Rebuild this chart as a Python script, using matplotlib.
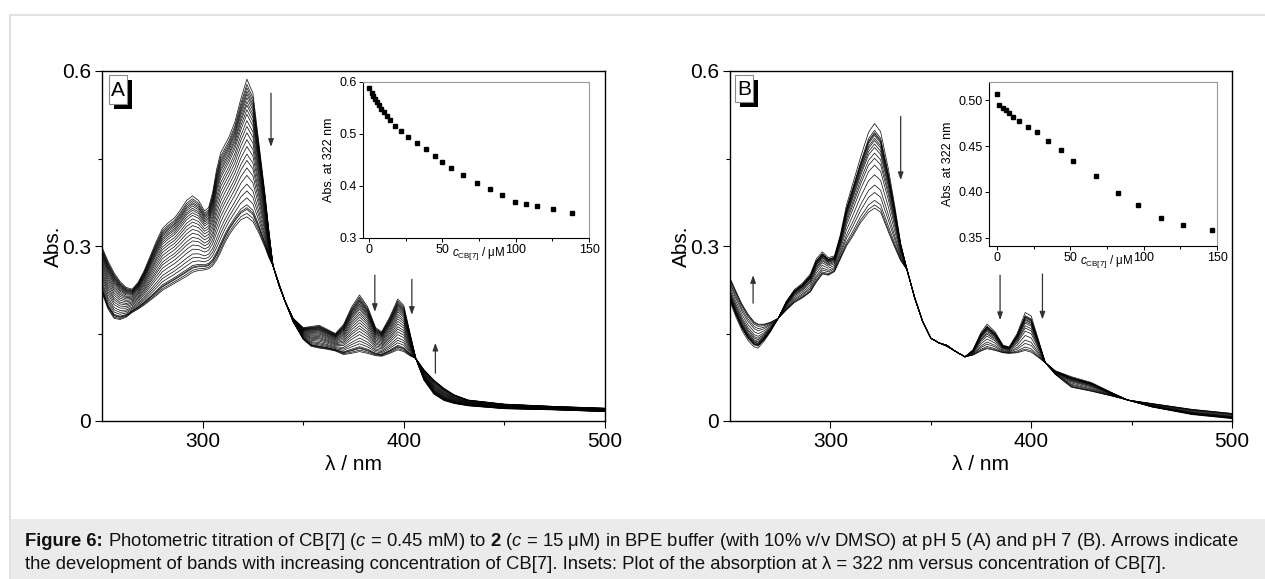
import numpy as np
import matplotlib
matplotlib.use("Agg")
import matplotlib.pyplot as plt
from matplotlib.patches import Rectangle
from matplotlib.lines import Line2D
from matplotlib.ticker import FixedLocator, FuncFormatter

plt.rcParams['font.family'] = ['Liberation Sans', 'DejaVu Sans']
plt.rcParams['mathtext.fontset'] = 'custom'
plt.rcParams['mathtext.rm'] = 'Liberation Sans'
plt.rcParams['mathtext.it'] = 'Liberation Sans:italic'
plt.rcParams['mathtext.bf'] = 'Liberation Sans:bold'

# ---------------- data: panel A (pH 5) ----------------
wl_A = [250, 253, 256, 259, 262, 265, 268, 271, 274, 277, 280, 283, 286, 289, 292,
        295, 298, 301, 303, 305, 307, 309, 311, 313, 316, 319, 322, 325, 328, 331, 333, 335,
        338, 341, 345, 350, 354, 358, 362, 366, 370, 374, 378, 382, 386, 389, 393,
        397, 400, 403, 406, 410, 415, 420, 425, 432, 450, 475, 500]
free_A = [0.298, 0.274, 0.254, 0.239, 0.229, 0.226, 0.238, 0.258, 0.283, 0.308, 0.330,
          0.340, 0.348, 0.362, 0.378, 0.386, 0.378, 0.360, 0.366, 0.392, 0.432, 0.460,
          0.473, 0.486, 0.512, 0.552, 0.586, 0.562, 0.476, 0.390, 0.325, 0.266, 0.232,
          0.205, 0.176, 0.160, 0.162, 0.164, 0.157, 0.150, 0.165, 0.195, 0.216, 0.196,
          0.160, 0.153, 0.178, 0.209, 0.198, 0.152, 0.107, 0.070, 0.046, 0.035, 0.030,
          0.026, 0.021, 0.019, 0.016]
bound_A = [0.220, 0.192, 0.176, 0.174, 0.178, 0.186, 0.192, 0.199, 0.207, 0.215, 0.224,
           0.230, 0.236, 0.242, 0.248, 0.255, 0.258, 0.259, 0.261, 0.266, 0.276, 0.290,
           0.305, 0.318, 0.333, 0.345, 0.350, 0.342, 0.322, 0.298, 0.280, 0.266, 0.235,
           0.205, 0.170, 0.140, 0.128, 0.125, 0.123, 0.120, 0.114, 0.116, 0.119, 0.116,
           0.112, 0.111, 0.116, 0.122, 0.119, 0.112, 0.107, 0.088, 0.070, 0.056, 0.045,
           0.036, 0.029, 0.025, 0.022]
conc_A = [0, 1.8, 2.9, 4.3, 5.6, 7.0, 8.6, 10.1, 12.2, 14.6, 18.0, 22, 27, 33, 39, 45,
          50, 56.3, 64.2, 73.6, 82.4, 91.0, 99.5, 107.2, 114.9, 125.2, 138.5]
abs322_A = [0.588, 0.579, 0.573, 0.567, 0.562, 0.556, 0.549, 0.543, 0.535, 0.527, 0.516,
            0.506, 0.495, 0.483, 0.471, 0.458, 0.447, 0.434, 0.421, 0.406, 0.394, 0.382,
            0.370, 0.365, 0.362, 0.355, 0.349]

# ---------------- data: panel B (pH 7) ----------------
wl_B = [250, 253, 256, 259, 262, 264, 267, 270, 274, 278, 282, 286, 290, 293, 296, 299,
        302, 305, 308, 311, 315, 319, 322, 325, 329, 332, 335, 338, 342, 346, 350, 354,
        358, 362, 367, 371, 375, 378, 382, 386, 389, 393, 397, 400, 404, 407, 412, 420,
        430, 440, 448, 460, 480, 500]
free_B = [0.205, 0.178, 0.155, 0.138, 0.127, 0.125, 0.137, 0.152, 0.176, 0.205, 0.225,
          0.236, 0.252, 0.278, 0.290, 0.280, 0.283, 0.320, 0.370, 0.405, 0.452, 0.495,
          0.510, 0.496, 0.430, 0.370, 0.305, 0.262, 0.210, 0.170, 0.142, 0.134, 0.130,
          0.120, 0.110, 0.122, 0.152, 0.166, 0.153, 0.130, 0.127, 0.150, 0.186, 0.180,
          0.135, 0.100, 0.086, 0.076, 0.066, 0.049, 0.036, 0.024, 0.011, 0.004]
bound_B = [0.245, 0.222, 0.200, 0.183, 0.170, 0.166, 0.166, 0.169, 0.176, 0.190, 0.203,
           0.211, 0.221, 0.238, 0.252, 0.250, 0.256, 0.278, 0.300, 0.316, 0.340, 0.358,
           0.365, 0.358, 0.323, 0.298, 0.275, 0.260, 0.212, 0.170, 0.142, 0.134, 0.128,
           0.120, 0.110, 0.113, 0.120, 0.124, 0.121, 0.117, 0.116, 0.117, 0.121, 0.118,
           0.108, 0.100, 0.080, 0.058, 0.051, 0.043, 0.036, 0.030, 0.020, 0.013]
conc_B = [0, 1.6, 4.0, 6.1, 7.9, 10.6, 14.9, 21, 27, 35, 43.4, 51.6, 67.8, 82.6, 96.4,
          112.1, 126.7, 146.3]
abs322_B = [0.507, 0.495, 0.491, 0.489, 0.486, 0.481, 0.477, 0.471, 0.465, 0.455, 0.446,
            0.434, 0.417, 0.399, 0.386, 0.372, 0.364, 0.3585]

# arrows (wavelength, tail Abs, head Abs)
arrows_A = [(334, 0.562, 0.470), (385.6, 0.250, 0.187), (404, 0.243, 0.182), (415.7, 0.082, 0.134)]
arrows_B = [(261.5, 0.202, 0.250), (335, 0.522, 0.413), (384.5, 0.250, 0.173), (405.6, 0.252, 0.174)]

caption_bold = "Figure 6:"
caption1 = (r" Photometric titration of CB[7] ($c$ = 0.45 mM) to $\mathbf{2}$ "
            r"($c$ = 15 μM) in BPE buffer (with 10% v/v DMSO) at pH 5 (A) and pH 7 (B). Arrows indicate")
caption2 = ("the development of bands with increasing concentration of CB[7]. Insets: Plot of the "
            "absorption at λ = 322 nm versus concentration of CB[7].")

W, H = 1265, 579
fig = plt.figure(figsize=(W / 100, H / 100), dpi=100)


def fx(x):
    return x / W


def fy(y):
    return 1 - y / H


# background frame and caption box
fig.add_artist(Rectangle((fx(9), 0), 1 - fx(9), fy(518.5), transform=fig.transFigure,
                         facecolor='#ebebeb', edgecolor='none', zorder=0))
fig.add_artist(Line2D([fx(9.5), fx(9.5)], [0, fy(14.5)], transform=fig.transFigure,
                      color='#e2e2e2', lw=1.5, zorder=1))
fig.add_artist(Line2D([fx(9.5), 1], [fy(14.5), fy(14.5)], transform=fig.transFigure,
                      color='#e2e2e2', lw=1.5, zorder=1))

CAP_FS = 13.3
renderer = fig.canvas.get_renderer()
tb = fig.text(fx(25), fy(546), caption_bold, fontsize=CAP_FS, weight='bold', ha='left',
              va='baseline', color='#111111')
bb = tb.get_window_extent(renderer=renderer)
fig.text(bb.x1 / W, fy(546), caption1, fontsize=CAP_FS, ha='left', va='baseline', color='#111111')
fig.text(fx(25), fy(569), caption2, fontsize=CAP_FS, ha='left', va='baseline', color='#111111')


def main_panel(left_px, right_px, wl, free, bound, abs322, arrows):
    ax = fig.add_axes([fx(left_px), fy(421), fx(right_px - left_px), (421 - 71) / H])
    wl = np.asarray(wl)
    free = np.asarray(free)
    bound = np.asarray(bound)
    a = np.asarray(abs322)
    frac = (a[0] - a) / (a[0] - a[-1])
    for f in frac:
        ax.plot(wl, free + f * (bound - free), color='black', lw=0.55, alpha=0.9)
    ax.set_xlim(250, 500)
    ax.set_ylim(0, 0.6)
    ax.xaxis.set_major_locator(FixedLocator([300, 400, 500]))
    ax.xaxis.set_minor_locator(FixedLocator([350, 450]))
    ax.yaxis.set_major_locator(FixedLocator([0, 0.3, 0.6]))
    ax.yaxis.set_minor_locator(FixedLocator([0.15, 0.45]))
    ax.yaxis.set_major_formatter(FuncFormatter(lambda v, p: '0' if v == 0 else f'{v:.1f}'))
    ax.tick_params(which='major', direction='out', length=5, width=0.8, labelsize=15, pad=3)
    ax.tick_params(which='minor', direction='out', length=3, width=0.8)
    for s in ax.spines.values():
        s.set_linewidth(1.0)
    ax.set_xlabel('λ / nm', fontsize=15, labelpad=3)
    ax.set_ylabel('Abs.', fontsize=15, labelpad=-1)
    for x, y0, y1 in arrows:
        ax.annotate('', xy=(x, y1), xytext=(x, y0),
                    arrowprops=dict(arrowstyle='-|>,head_length=0.45,head_width=0.16',
                                    color='#333333', lw=0.9, shrinkA=0, shrinkB=0))
    return ax


def panel_letter(letter, bx0, by0, bx1, by1):
    fig.add_artist(Rectangle((fx(bx0 + 5), fy(by1 + 4.5)), fx(bx1 - bx0), (by1 - by0) / H,
                             transform=fig.transFigure, facecolor='black', edgecolor='none', zorder=5))
    fig.add_artist(Rectangle((fx(bx0), fy(by1)), fx(bx1 - bx0), (by1 - by0) / H,
                             transform=fig.transFigure, facecolor='white', edgecolor='#8a8a8a',
                             lw=0.8, zorder=6))
    fig.text(fx((bx0 + bx1) / 2), fy((by0 + by1) / 2 + 1), letter, fontsize=15,
             ha='center', va='center', zorder=7)


def inset(left_px, right_px, top_px, bottom_px, xlim, ylim, yticks, yfmt, conc, vals, xlab_x):
    ax = fig.add_axes([fx(left_px), fy(bottom_px), fx(right_px - left_px), (bottom_px - top_px) / H])
    ax.plot(conc, vals, linestyle='none', marker='s', markersize=3, color='black')
    ax.set_xlim(*xlim)
    ax.set_ylim(*ylim)
    ax.xaxis.set_major_locator(FixedLocator([0, 50, 100, 150]))
    ax.xaxis.set_minor_locator(FixedLocator([25, 75, 125]))
    ax.yaxis.set_major_locator(FixedLocator(yticks))
    ax.yaxis.set_major_formatter(FuncFormatter(lambda v, p: yfmt.format(v)))
    ax.tick_params(which='major', direction='out', length=3, width=0.7, labelsize=9, pad=1.5)
    ax.tick_params(which='minor', direction='out', length=2, width=0.7)
    for side in ['top', 'right']:
        ax.spines[side].set_color('#9a9a9a')
    for s in ax.spines.values():
        s.set_linewidth(0.8)
    ax.text((xlab_x - left_px) / (right_px - left_px), -0.045,
            r'$c_{\mathrm{CB[7]}}$ / μM', transform=ax.transAxes, fontsize=8.3,
            ha='left', va='top')
    ax.set_ylabel('Abs. at 322 nm', fontsize=9, labelpad=3)
    return ax


axA = main_panel(102, 605, wl_A, free_A, bound_A, abs322_A, arrows_A)
axB = main_panel(730, 1232, wl_B, free_B, bound_B, abs322_B, arrows_B)
panel_letter('A', 109, 75, 127, 104)
panel_letter('B', 735, 75, 753, 102)

inset(363, 589, 82, 238, (-4, 150), (0.3, 0.6), [0.3, 0.4, 0.5, 0.6], '{:.1f}',
      conc_A, abs322_A, 452)
inset(989, 1217, 82, 245.5, (-5.5, 150), (0.3418, 0.5196), [0.35, 0.40, 0.45, 0.50], '{:.2f}',
      conc_B, abs322_B, 1080)

fig.savefig('out.png', dpi=100)
